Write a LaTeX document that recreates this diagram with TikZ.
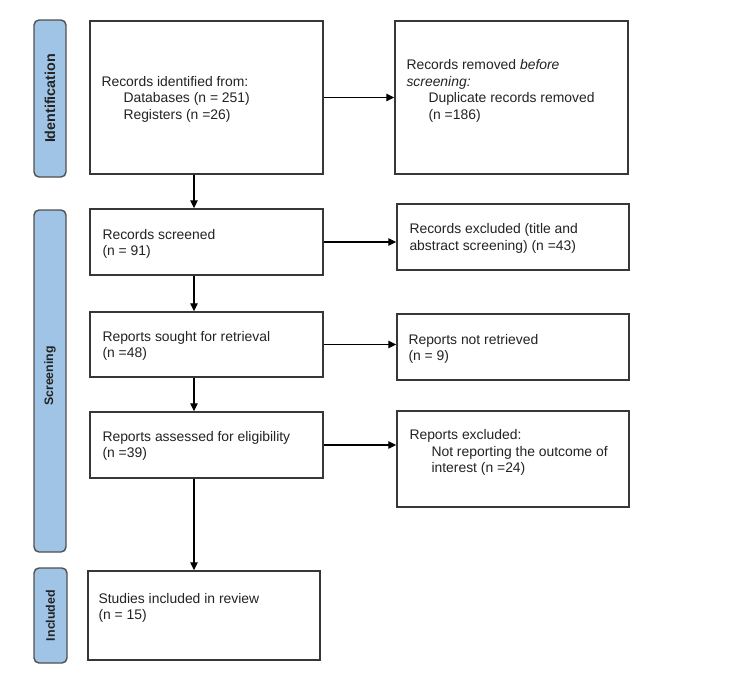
\documentclass[tikz,border=0pt]{standalone}
\usepackage{fontspec}
\setmainfont{Liberation Sans}
\usetikzlibrary{arrows.meta,calc}
\definecolor{barblue}{RGB}{160,196,230}
\definecolor{barline}{RGB}{80,80,80}
\definecolor{boxline}{RGB}{55,55,55}
\definecolor{txtcol}{RGB}{35,35,35}
\begin{document}
\begin{tikzpicture}[x=1pt,y=-1pt,
  box/.style={draw=boxline,line width=1.4pt,fill=white,inner sep=0pt},
  bar/.style={draw=barline,line width=1.4pt,fill=barblue,rounded corners=5pt,inner sep=0pt,minimum width=32pt},
  barlabel/.style={rotate=90,font=\bfseries,text=txtcol,inner sep=0pt},
  txt/.style={anchor=west,align=left,inner sep=0pt,text=txtcol,font=\fontsize{13.9}{16.5}\selectfont},
  arr/.style={line width=1.3pt,-{Triangle[length=8pt,width=7.5pt]}}]
\useasboundingbox (0,0) rectangle (750,681);
% phase bars
\node[bar,minimum height=157pt] (L1) at (50,98.5) {};
\node[bar,minimum height=342pt] (L2) at (50,381) {};
\node[bar,minimum height=95pt,minimum width=33pt] (L3) at (50.5,615.5) {};
\node[barlabel,font=\bfseries\fontsize{14.3}{16}\selectfont] (l1) at (L1.center) {Identification};
\node[barlabel,font=\bfseries\fontsize{12.3}{14}\selectfont] (l2) at (50,376) {Screening};
\node[barlabel,font=\bfseries\fontsize{12.4}{14}\selectfont] (l3) at (L3.center) {Included};
% boxes
\node[box,minimum width=233pt,minimum height=153pt] (b1) at (206.5,97.5) {};
\node[box,minimum width=233pt,minimum height=153pt] (b2) at (511.5,97.5) {};
\node[box,minimum width=233pt,minimum height=66pt] (b3) at (206.5,242) {};
\node[box,minimum width=233pt,minimum height=65pt] (b4) at (206.5,344.5) {};
\node[box,minimum width=233pt,minimum height=66pt] (b5) at (206.5,445) {};
\node[box,minimum width=232pt,minimum height=89pt] (b6) at (204,615.5) {};
\node[box,minimum width=232pt,minimum height=66pt] (b7) at (513,237) {};
\node[box,minimum width=232pt,minimum height=66pt] (b8) at (513,347) {};
\node[box,minimum width=232pt,minimum height=96pt] (b9) at (513,459) {};
% texts
\node[txt] (t1) at ($(b1.west)+(12,1.5)$) {Records identified from:\\\hspace*{22pt}Databases (n = 251)\\\hspace*{22pt}Registers (n =26)};
\node[txt] (t2) at ($(b2.west)+(12,-6.5)$) {Records removed \textit{before}\\\textit{screening:}\\\hspace*{22pt}Duplicate records removed\\\hspace*{22pt}(n =186)};
\node[txt] (t3) at ($(b3.west)+(13,2)$) {Records screened\\(n = 91)};
\node[txt] (t4) at ($(b4.west)+(13,1.5)$) {Reports sought for retrieval\\(n =48)};
\node[txt] (t5) at ($(b5.west)+(13,1)$) {Reports assessed for eligibility\\(n =39)};
\node[txt] (t6) at ($(b6.west)+(11,-7.5)$) {Studies included in review\\(n = 15)};
\node[txt] (t7) at ($(b7.west)+(13,1.5)$) {Records excluded (title and\\abstract screening) (n =43)};
\node[txt] (t8) at ($(b8.west)+(12,2)$) {Reports not retrieved\\(n = 9)};
\node[txt] (t9) at ($(b9.west)+(13,-6.5)$) {Reports excluded:\\\hspace*{22pt}Not reporting the outcome of\\\hspace*{22pt}interest (n =24)};
% arrows
\coordinate (ax) at (194,0);
\draw[arr] (b1.south -| ax) -- (b3.north -| ax);
\draw[arr] (b3.south -| ax) -- (b4.north -| ax);
\draw[arr] (b4.south -| ax) -- (b5.north -| ax);
\draw[arr] (b5.south -| ax) -- (b6.north -| ax);
\draw[arr] (b1.east) -- (b1.east -| b2.west);
\draw[arr] (b3.east) -- (b3.east -| b7.west);
\draw[arr] (b4.east) -- (b4.east -| b8.west);
\draw[arr] (b5.east) -- (b5.east -| b9.west);
\end{tikzpicture}
\end{document}
